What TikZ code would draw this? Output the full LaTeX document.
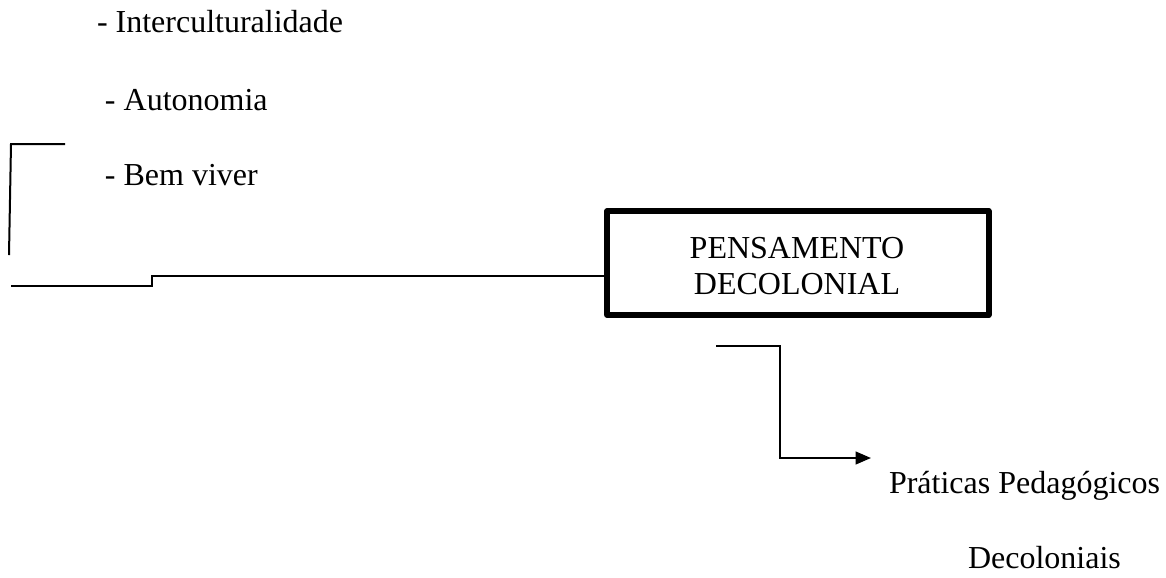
\documentclass[tikz,border=0pt]{standalone}
\usepackage{fontspec}
\setmainfont{Liberation Serif}
\usetikzlibrary{arrows.meta}
\begin{document}
\begin{tikzpicture}[x=0.375pt,y=-0.375pt,
  txt/.style={font=\fontsize{12}{14.4}\selectfont, inner sep=0pt, outer sep=0pt},
  thin line/.style={line width=0.75pt},
  mainbox/.style={draw, line width=2.25pt, line join=round, minimum width=142.9pt, minimum height=39pt, inner sep=0pt}]
\useasboundingbox (0,0) rectangle (1166,577);
% list texts
\node[txt, anchor=base west] (inter) at (97,32) {- Interculturalidade};
\node[txt, anchor=base west] (auto) at (105,110) {- Autonomia};
\node[txt, anchor=base west] (bem) at (105,185) {- Bem viver};
% central box
\node[mainbox] (box) at (798,263) {};
\node[txt, anchor=base] (pens) at (797,258) {PENSAMENTO};
\node[txt, anchor=base] (deco) at (797,294) {DECOLONIAL};
% right texts
\node[txt, anchor=base west] (prat) at (889,493) {Práticas Pedagógicos};
\node[txt, anchor=base west] (decol) at (968,568) {Decoloniais};
% left bracket
\coordinate (b1) at (65,144);
\coordinate (b2) at (11,144);
\coordinate (b3) at (9,255);
\draw[thin line] (b1) -- (b2) -- (b3);
% line to box
\coordinate (l1) at (11,286);
\coordinate (l2) at (152,286);
\coordinate (l3) at (152,276);
\draw[thin line] (l1) -- (l2) -- (l3) -- (box.west |- l3);
% arrow down right
\coordinate (a1) at (716,346);
\coordinate (a2) at (780,346);
\coordinate (a3) at (780,458);
\coordinate (a4) at (871,458);
\draw[thin line, -{Triangle[length=5.8pt,width=4.8pt]}] (a1) -- (a2) -- (a3) -- (a4);
\end{tikzpicture}
\end{document}
